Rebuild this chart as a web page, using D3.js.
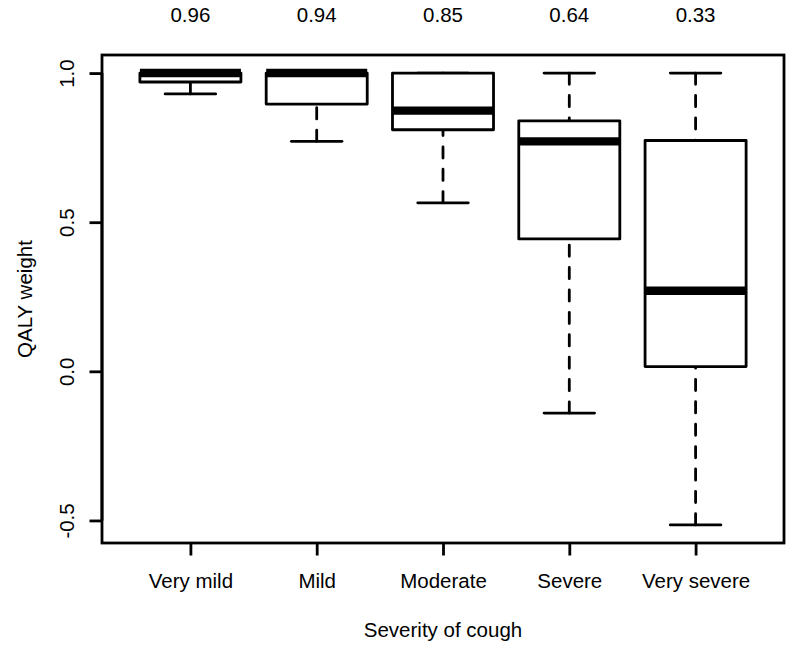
<!DOCTYPE html>
<html>
<head>
<meta charset="utf-8">
<script src="https://cdn.jsdelivr.net/npm/d3@7"></script>
<style>
  html, body { margin: 0; padding: 0; background: #fff; }
  svg { display: block; }
  text { font-family: "Liberation Sans", Arial, sans-serif; fill: #000; }
</style>
</head>
<body>
<svg id="chart" width="793" height="650"></svg>
<script>
// ---- data ----
const categories = ["Very mild", "Mild", "Moderate", "Severe", "Very severe"];
const whiskerLow  = [0.93, 0.771, 0.565, -0.14, -0.515];
const quartile1   = [0.97, 0.896, 0.81, 0.444, 0.016];
const medians     = [1.0, 1.0, 0.874, 0.771, 0.27];
const quartile3   = [1.0, 1.0, 1.0, 0.84, 0.774];
const whiskerHigh = [1.0, 1.0, 1.0, 1.0, 1.0];
const meanLabels  = ["0.96", "0.94", "0.85", "0.64", "0.33"];
const yTicks      = [-0.5, 0.0, 0.5, 1.0];
const yTickLabels = ["-0.5", "0.0", "0.5", "1.0"];
const xTitle = "Severity of cough";
const yTitle = "QALY weight";

(function () {
  // ---- layout ----
  const mLeft = 102, mRight = 784, mTop = 55, mBottom = 543;
  const lw = 2.8;
  const fs = 20.5;

  const svg = d3.select("#chart");

  const n = categories.length;
  const x = d3.scaleLinear().domain([0.3, n + 0.7]).range([mLeft, mRight]);
  const lo = d3.min(whiskerLow), hi = d3.max(whiskerHigh);
  const pad = 0.04 * (hi - lo);
  const y = d3.scaleLinear().domain([lo - pad, hi + pad]).range([mBottom, mTop]);

  const boxW = x(0.8) - x(0);
  const capW = x(0.4) - x(0);

  const data = categories.map((c, i) => ({
    c, i, pos: i + 1,
    min: whiskerLow[i], q1: quartile1[i], med: medians[i], q3: quartile3[i], max: whiskerHigh[i],
    label: meanLabels[i]
  }));

  const g = svg.append("g");

  // whiskers (dashed, drawn from whisker end toward the box)
  g.selectAll(".wlo").data(data).enter().append("line")
    .attr("x1", d => x(d.pos)).attr("x2", d => x(d.pos))
    .attr("y1", d => y(d.min)).attr("y2", d => y(d.q1))
    .attr("stroke", "#000").attr("stroke-width", lw)
    .attr("stroke-dasharray", `${4*lw} ${4*lw}`).attr("stroke-linecap", "round");
  g.selectAll(".whi").data(data).enter().append("line")
    .attr("x1", d => x(d.pos)).attr("x2", d => x(d.pos))
    .attr("y1", d => y(d.max)).attr("y2", d => y(d.q3))
    .attr("stroke", "#000").attr("stroke-width", lw)
    .attr("stroke-dasharray", `${4*lw} ${4*lw}`).attr("stroke-linecap", "round");

  // staples
  ["min", "max"].forEach(k => {
    g.selectAll(".cap-" + k).data(data).enter().append("line")
      .attr("x1", d => x(d.pos) - capW / 2).attr("x2", d => x(d.pos) + capW / 2)
      .attr("y1", d => y(d[k])).attr("y2", d => y(d[k]))
      .attr("stroke", "#000").attr("stroke-width", lw).attr("stroke-linecap", "round");
  });

  // boxes
  g.selectAll(".box").data(data).enter().append("rect")
    .attr("x", d => x(d.pos) - boxW / 2).attr("width", boxW)
    .attr("y", d => y(d.q3)).attr("height", d => y(d.q1) - y(d.q3))
    .attr("fill", "#fff").attr("stroke", "#000").attr("stroke-width", lw)
    .attr("stroke-linejoin", "round");

  // medians
  g.selectAll(".med").data(data).enter().append("line")
    .attr("x1", d => x(d.pos) - boxW / 2).attr("x2", d => x(d.pos) + boxW / 2)
    .attr("y1", d => y(d.med)).attr("y2", d => y(d.med))
    .attr("stroke", "#000").attr("stroke-width", 3 * lw).attr("stroke-linecap", "butt");

  // frame
  svg.append("rect").attr("x", mLeft).attr("y", mTop)
    .attr("width", mRight - mLeft).attr("height", mBottom - mTop)
    .attr("fill", "none").attr("stroke", "#000").attr("stroke-width", lw);

  // y axis
  const yAxis = d3.axisLeft(y).tickValues(yTicks).tickSize(12.5)
    .tickFormat((d, i) => yTickLabels[i]);
  const ya = svg.append("g").attr("transform", `translate(${mLeft},0)`).call(yAxis);
  ya.select(".domain").attr("d", `M0,${y(yTicks[0])}V${y(yTicks[yTicks.length-1])}`)
    .attr("stroke", "#000").attr("stroke-width", lw);
  ya.selectAll(".tick line").attr("stroke", "#000").attr("stroke-width", lw);
  ya.selectAll(".tick text")
    .attr("x", null).attr("dy", null)
    .attr("transform", "translate(-28,0) rotate(-90)")
    .attr("text-anchor", "middle")
    .attr("font-size", fs).attr("font-family", "Liberation Sans, Arial, sans-serif")
    .attr("fill", "#000");

  // x axis
  const xAxis = d3.axisBottom(x).tickValues(data.map(d => d.pos)).tickSize(12.5)
    .tickFormat((d, i) => categories[i]);
  const xa = svg.append("g").attr("transform", `translate(0,${mBottom})`).call(xAxis);
  xa.select(".domain").remove();
  xa.selectAll(".tick line").attr("stroke", "#000").attr("stroke-width", lw);
  xa.selectAll(".tick text").attr("y", 45).attr("dy", null)
    .attr("font-size", fs).attr("font-family", "Liberation Sans, Arial, sans-serif")
    .attr("fill", "#000");

  // top labels
  svg.selectAll(".toplab").data(data).enter().append("text")
    .attr("x", d => x(d.pos)).attr("y", 22)
    .attr("text-anchor", "middle").attr("font-size", fs)
    .text(d => d.label);

  // axis titles
  svg.append("text").attr("x", (mLeft + mRight) / 2).attr("y", 637)
    .attr("text-anchor", "middle").attr("font-size", fs).text(xTitle);
  svg.append("text")
    .attr("transform", `translate(32,${(mTop + mBottom) / 2}) rotate(-90)`)
    .attr("text-anchor", "middle").attr("font-size", fs).text(yTitle);
})();
</script>
</body>
</html>
